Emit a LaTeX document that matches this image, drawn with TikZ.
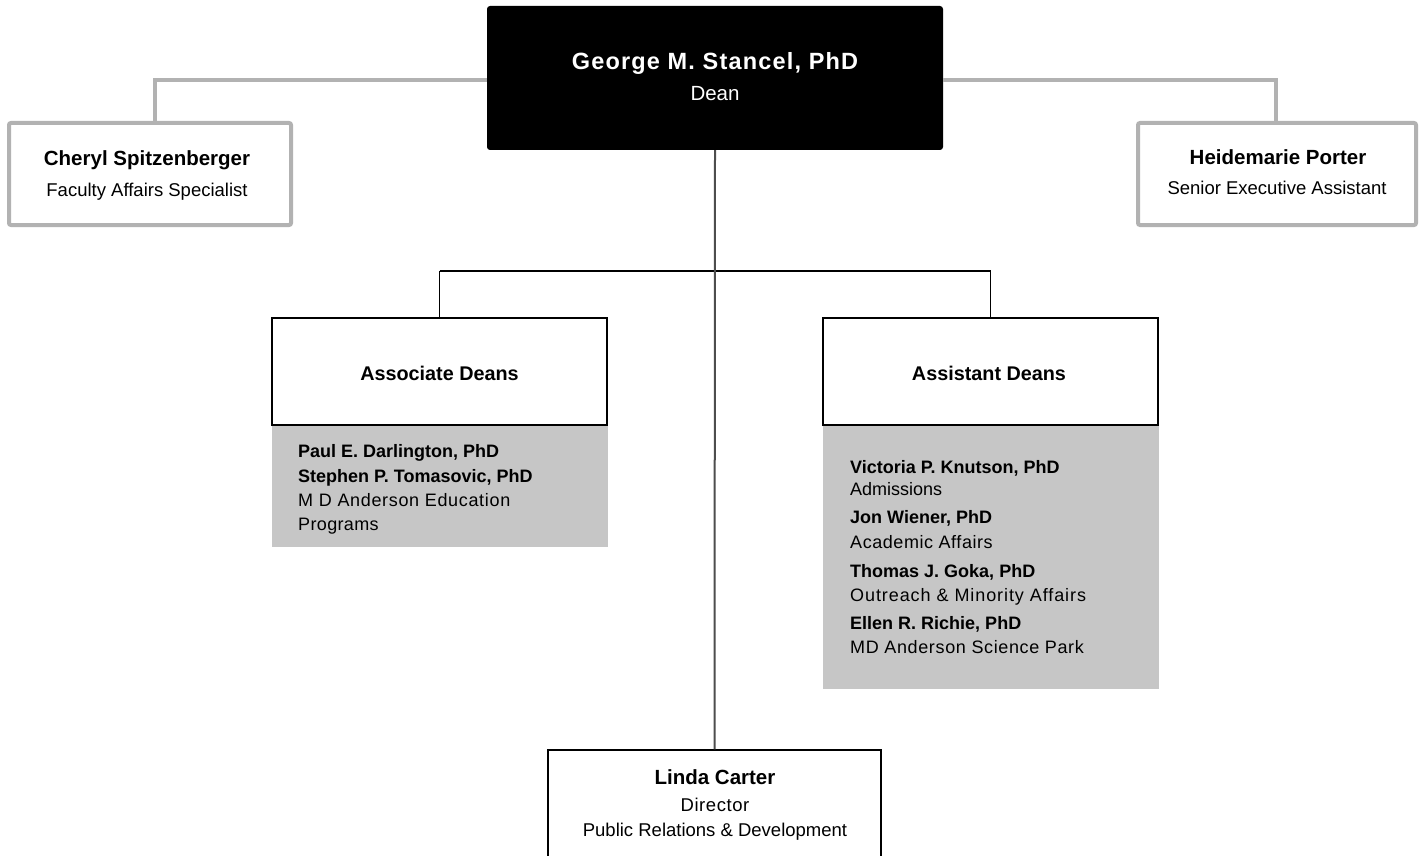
\documentclass[tikz,border=0pt]{standalone}
\usepackage{fontspec}
\setmainfont{Liberation Sans}
\newfontfamily\deanfont[LetterSpace=5]{Liberation Sans}
\newcommand{\trk}[2]{{\addfontfeature{LetterSpace=#1}#2}}
\definecolor{sidegrey}{HTML}{B2B2B2}
\definecolor{panelgrey}{HTML}{C6C6C6}
\definecolor{stemgrey}{HTML}{4D4D4D}
\tikzset{
  deanbox/.style={fill=black, rounded corners=3pt, minimum width=456pt, minimum height=144pt, inner sep=0pt},
  sidebox/.style={draw=sidegrey, line width=4pt, rounded corners=2pt, fill=white, minimum height=102pt, inner sep=0pt},
  headbox/.style={draw=black, line width=1.3pt, fill=white, minimum width=335pt, minimum height=107pt, inner sep=0pt},
  panel/.style={fill=panelgrey, minimum width=336pt, inner sep=0pt},
  deanname/.style={text=white, font=\deanfont\bfseries\fontsize{23.5}{28}\selectfont, anchor=base, inner sep=0pt},
  deantitle/.style={text=white, font=\fontsize{20.5}{24}\selectfont, anchor=base, inner sep=0pt},
  bname/.style={font=\bfseries\fontsize{20.5}{24}\selectfont, anchor=base, inner sep=0pt},
  rtitle/.style={font=\fontsize{18.5}{22}\selectfont, anchor=base, inner sep=0pt},
  headtext/.style={font=\bfseries\fontsize{19.8}{23}\selectfont, anchor=base, inner sep=0pt},
  gname/.style={font=\bfseries\fontsize{18}{21}\selectfont, anchor=base west, inner sep=0pt},
  gtitle/.style={font=\fontsize{18}{21}\selectfont, anchor=base west, inner sep=0pt},
  greyline/.style={draw=sidegrey, line width=4pt},
  thinline/.style={draw=black, line width=1.3pt},
  stemline/.style={draw=stemgrey, line width=2pt}
}
\begin{document}
\begin{tikzpicture}[x=1pt,y=-1pt]
\path[use as bounding box] (0,0) rectangle (1419,856);
\clip (0,0) rectangle (1419,856);

% Dean
\node[deanbox] (dean) at (715,78) {};
\node[deanname] (deanN) at (715,70) {George M. Stancel, PhD};
\node[deantitle] (deanT) at (715,101) {Dean};

% side boxes
\node[sidebox, minimum width=282pt] (cheryl) at (150,174) {};
\node[bname] (cherylN) at (147,165) {Cheryl Spitzenberger};
\node[rtitle] (cherylT) at (147,196) {Faculty Affairs Specialist};

\node[sidebox, minimum width=278pt] (heide) at (1277,174) {};
\node[bname] (heideN) at (1278,164.5) {Heidemarie Porter};
\node[rtitle] (heideT) at (1277,194) {Senior Executive Assistant};

% Associate Deans
\node[panel, minimum height=122pt] (assocP) at (439.5,486) {};
\node[headbox] (assoc) at (439.5,371.5) {};
\node[headtext] (assocH) at (439.5,380) {Associate Deans};
\node[gname] (a1) at (298,457) {Paul E. Darlington, PhD};
\node[gname] (a2) at (298,482) {Stephen P. Tomasovic, PhD};
\node[gtitle] (a3) at (298,506) {\trk{3.7}{M D Anderson Education}};
\node[gtitle] (a4) at (298,530) {\trk{2}{Programs}};

% Assistant Deans
\node[panel, minimum height=264pt] (assistP) at (990.5,557) {};
\node[headbox] (assist) at (990.5,371.5) {};
\node[headtext] (assistH) at (989,380) {Assistant Deans};
\node[gname] (b1) at (850,473) {Victoria P. Knutson, PhD};
\node[gtitle] (b2) at (850,495) {Admissions};
\node[gname] (b3) at (850,523) {Jon Wiener, PhD};
\node[gtitle] (b4) at (850,548) {\trk{3.1}{Academic Affairs}};
\node[gname] (b5) at (850,577) {Thomas J. Goka, PhD};
\node[gtitle] (b6) at (850,601) {\trk{5.1}{Outreach \& Minority Affairs}};
\node[gname] (b7) at (850,629) {Ellen R. Richie, PhD};
\node[gtitle] (b8) at (850,653) {\trk{3.5}{MD Anderson Science Park}};

% Linda Carter
\node[headbox, minimum width=333pt, minimum height=160pt] (linda) at (714.5,830) {};
\node[bname] (lindaN) at (715,784) {Linda Carter};
\node[rtitle] (lindaT1) at (715,811.7) {\trk{3}{Director}};
\node[rtitle] (lindaT2) at (715,836.7) {Public Relations \& Development};

% connectors
\coordinate (cl) at (155,80);
\coordinate (cr) at (1276,80);
\draw[greyline] (dean.west |- cl) -- (cl) -- (cl |- cheryl.north);
\draw[greyline] (dean.east |- cr) -- (cr) -- (cr |- heide.north);

\coordinate (hy) at (0,271);
\coordinate (jl) at (assoc.north |- hy);
\coordinate (jr) at (assist.north |- hy);
\draw[thinline] (jl) -- (jr);
\draw[thinline] (jl) -- (assoc.north);
\draw[thinline] (jr) -- (assist.north);
\draw[stemline] (dean.south) -- (linda.north);
\end{tikzpicture}
\end{document}
